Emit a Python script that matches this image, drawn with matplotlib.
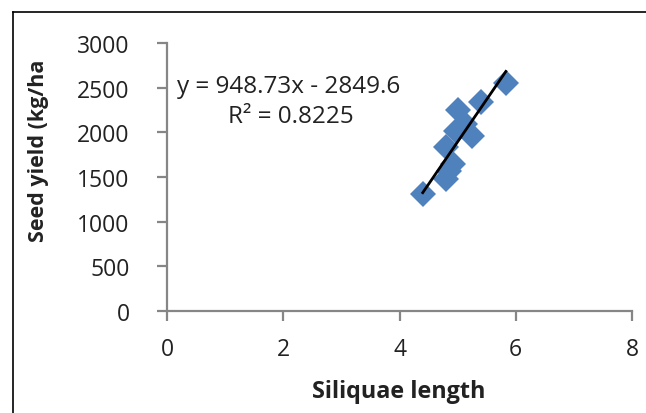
import numpy as np
import matplotlib.pyplot as plt
from matplotlib.lines import Line2D

plt.rcParams['font.family'] = ['Open Sans', 'DejaVu Sans']

# Siliquae length vs seed yield
siliquae_length = [4.4, 4.8, 4.86, 4.80, 4.92, 4.98, 5.01, 5.12, 5.24, 5.41, 5.83]
seed_yield = [1310, 1478, 1571, 1832, 1646, 2018, 2253, 2093, 1955, 2343, 2552]

# Linear trendline
slope = 948.73
intercept = -2849.6
r_squared = 0.8225

W, H = 646, 414
fig = plt.figure(figsize=(W / 100, H / 100), dpi=100)
ax = fig.add_axes([167 / W, 1 - 312 / H, (632 - 167) / W, (312 - 44) / H])

ax.plot(siliquae_length, seed_yield, 'D', color='#4F81BD', markersize=13,
        markeredgewidth=0, zorder=2)

xs = np.array([min(siliquae_length), max(siliquae_length)])
ax.plot(xs, slope * xs + intercept, color='black', lw=2, zorder=3)

ax.set_xlim(0, 8)
ax.set_ylim(0, 3000)
ax.set_xticks([0, 2, 4, 6, 8])
ax.set_yticks(range(0, 3001, 500))

axis_col = '#868686'
for side in ['top', 'right']:
    ax.spines[side].set_visible(False)
for side in ['left', 'bottom']:
    ax.spines[side].set_color(axis_col)
    ax.spines[side].set_linewidth(1.6)
ax.tick_params(axis='both', colors=axis_col, width=1.6, length=7,
               labelcolor='#222222', labelsize=16.5)
ax.tick_params(axis='x', pad=12)
ax.tick_params(axis='y', pad=20)

ax.text(0.17, 2519, 'y = 948.73x - 2849.6', fontsize=17.5, color='#222222',
        va='center')
ax.text(1.05, 2183, f'R² = {r_squared}', fontsize=17.5, color='#222222',
        va='center')

fig.text(399 / W, 1 - 392 / H, 'Siliquae length', fontsize=16.8,
         fontweight='bold', ha='center', va='center', color='#222222')
fig.text(39 / W, 1 - 151 / H, 'Seed yield (kg/ha', fontsize=15.5,
         fontweight='bold', ha='center', va='center', rotation=90,
         color='#222222')

# outer frame (open on the right and bottom)
fig.add_artist(Line2D([13 / W, 1], [1 - 13 / H, 1 - 13 / H],
                      transform=fig.transFigure, color='black', lw=1.2))
fig.add_artist(Line2D([13 / W, 13 / W], [0, 1 - 13 / H],
                      transform=fig.transFigure, color='black', lw=1.2))

fig.savefig('out.png', dpi=100)
